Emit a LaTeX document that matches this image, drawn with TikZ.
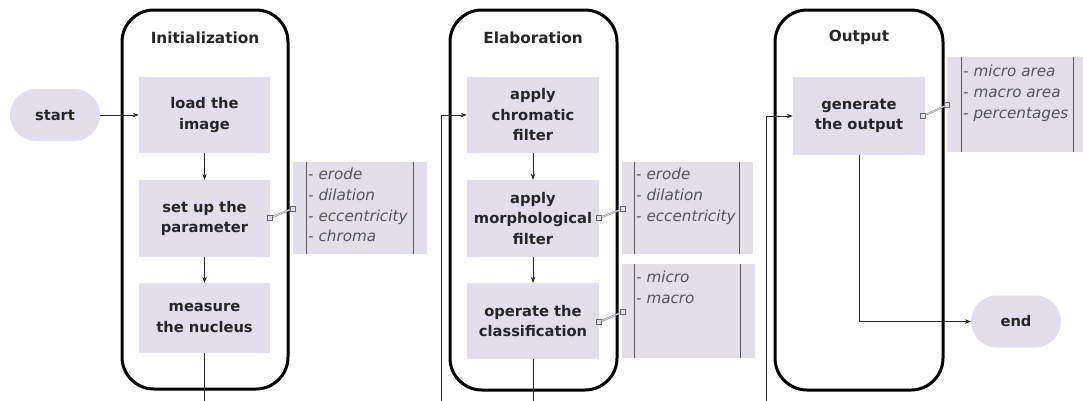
\documentclass[tikz,border=0pt]{standalone}
\usepackage{fontspec}
\setmainfont{DejaVu Sans}
\usetikzlibrary{arrows.meta,calc}
\definecolor{lav}{RGB}{227,222,236}
\definecolor{notetext}{RGB}{85,83,95}
\definecolor{wire}{RGB}{40,40,40}
\tikzset{
  every node/.style={font=\fontsize{14.5}{20.5}\selectfont},
  container/.style={draw=black,line width=3pt,rounded corners=32pt,inner sep=0pt},
  title/.style={font=\fontsize{15.3}{20.5}\selectfont\bfseries,text=black!85},
  stepbox/.style={fill=lav,inner sep=0pt,align=center,text=black!85,
     font=\fontsize{14.7}{20.5}\selectfont\bfseries},
  term/.style={fill=lav,inner sep=0pt,minimum width=90pt,minimum height=52pt,
     rounded corners=26pt,text=black!85,font=\fontsize{14.7}{20.5}\selectfont\bfseries},
  notebox/.style={fill=lav,inner sep=0pt},
  notetxt/.style={anchor=north west,inner sep=0pt,align=left,text=notetext,
     font=\fontsize{15.2}{20.7}\selectfont\itshape},
  rule/.style={draw=black!65,line width=0.8pt},
  flow/.style={draw=wire,line width=0.7pt,-{Stealth[length=6pt,width=4.5pt]}},
  anchorsq/.style={draw=black!60,fill=lav,line width=0.5pt,minimum size=5pt,inner sep=0pt},
  link/.style={draw=black!55,double=lav,double distance=0.9pt,line width=0.45pt}
}
\begin{document}
\begin{tikzpicture}[x=1pt,y=-1pt]
\useasboundingbox (0,0) rectangle (1083,400);
\clip (0,0) rectangle (1083,400);
\fill[white] (0,0) rectangle (1083,400);

% containers
\node[container,minimum width=166pt,minimum height=379pt] (initC) at (205,199.5) {};
\node[container,minimum width=167pt,minimum height=380pt] (elabC) at (533.5,200) {};
\node[container,minimum width=168pt,minimum height=380pt] (outC) at (859,200) {};
\node[title] (initT) at (205,38) {Initialization};
\node[title] (elabT) at (533,38) {Elaboration};
\node[title] (outT) at (859,37.5) {Output};

% process boxes
\node[stepbox,minimum width=131pt,minimum height=76pt] (load) at (204.5,115) {load the\\image};
\node[stepbox,minimum width=131pt,minimum height=77pt] (setup) at (204.5,218.5) {set up the\\parameter};
\node[stepbox,minimum width=131pt,minimum height=70pt] (measure) at (204.5,318) {measure\\the nucleus};

\node[stepbox,minimum width=132pt,minimum height=76pt] (chrom) at (533,115) {apply\\chromatic\\filter};
\node[stepbox,minimum width=132pt,minimum height=77pt] (morph) at (533,218.5) {apply\\morphological\\filter};
\node[stepbox,minimum width=132pt,minimum height=76pt] (class) at (533,321) {operate the\\classification};

\node[stepbox,minimum width=132pt,minimum height=78pt] (gen) at (859,116) {generate\\the output};

\node[term] (start) at (55,115) {start};
\node[term] (end) at (1016,321.5) {end};

% note boxes
\node[notebox,minimum width=134pt,minimum height=92pt] (n1) at (360,208) {};
\draw[rule] (306,162) -- (306,254) (413,162) -- (413,254);
\node[notetxt] (n1t) at (308,168) {- erode\\- dilation\\- eccentricity\\- chroma};

\node[notebox,minimum width=131pt,minimum height=92pt] (n2) at (687.5,208) {};
\draw[rule] (634,162) -- (634,254) (739,162) -- (739,254);
\node[notetxt] (n2t) at (636,168) {- erode\\- dilation\\- eccentricity};

\node[notebox,minimum width=133pt,minimum height=94pt] (n3) at (688.5,311) {};
\draw[rule] (634,264) -- (634,358) (740,264) -- (740,358);
\node[notetxt] (n3t) at (636,271) {- micro\\- macro};

\node[notebox,minimum width=140pt,minimum height=95pt] (n4) at (1017,104.5) {};
\draw[rule] (961,57) -- (961,152) (1073,57) -- (1073,152);
\node[notetxt] (n4t) at (963,65) {- micro area\\- macro area\\- percentages};

% annotation links
\node[anchorsq] (a1) at (270,218) {};
\node[anchorsq] (b1) at (292.5,208.5) {};
\draw[link] (a1) -- (b1);
\node[anchorsq] (a2) at (599,218) {};
\node[anchorsq] (b2) at (622.5,209) {};
\draw[link] (a2) -- (b2);
\node[anchorsq] (a3) at (599,322) {};
\node[anchorsq] (b3) at (622.5,312) {};
\draw[link] (a3) -- (b3);
\node[anchorsq] (a4) at (923,116) {};
\node[anchorsq] (b4) at (947,105) {};
\draw[link] (a4) -- (b4);

% flow connectors
\draw[flow] (start.east) -- (load.west);
\draw[flow] (load.south) -- (setup.north);
\draw[flow] (setup.south) -- (measure.north);
\coordinate (loopA) at (441,420);
\draw[flow] (measure.south) |- (loopA) |- (chrom.west);
\draw[flow] (chrom.south) -- (morph.north);
\draw[flow] (morph.south) -- (class.north);
\coordinate (loopB) at (766,420);
\draw[flow] (class.south) |- (loopB) |- (gen.west);
\draw[flow] (gen.south) |- (end.west);
\end{tikzpicture}
\end{document}
